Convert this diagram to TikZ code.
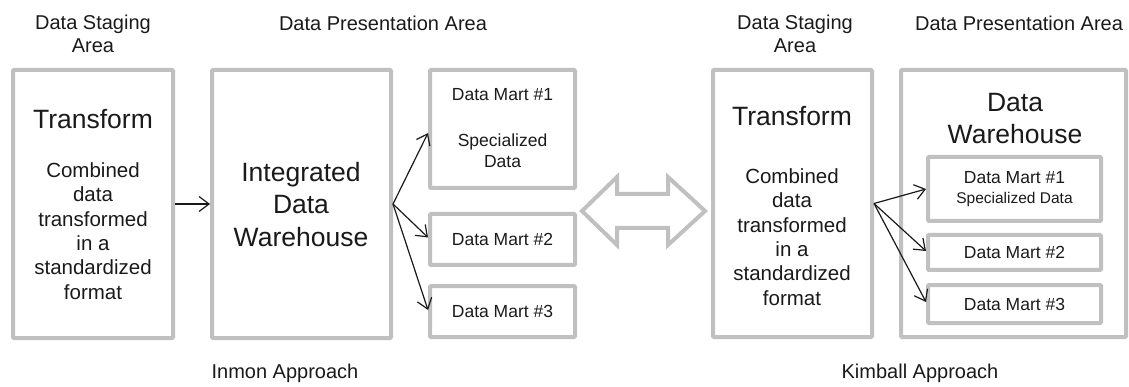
\documentclass[tikz,border=0pt]{standalone}
\usepackage{fontspec}
\setmainfont{Liberation Sans}
\usetikzlibrary{arrows.meta}
\definecolor{boxgray}{HTML}{C0C0C0}
\definecolor{txt}{HTML}{1A1A1A}
\begin{document}
\begin{tikzpicture}[x=1pt,y=-1pt,
  box/.style={draw=boxgray,line width=4pt,rounded corners=1pt,inner sep=0pt,minimum width=#1},
  lbl/.style={text=txt,align=center,inner sep=0pt},
  big/.style={lbl,font=\fontsize{26.5}{32.5}\selectfont},
  mid/.style={lbl,font=\fontsize{20.5}{24.3}\selectfont},
  hdr/.style={lbl,font=\fontsize{20}{22.5}\selectfont},
  sml/.style={lbl,font=\fontsize{17.5}{21}\selectfont},
  tiny/.style={lbl,font=\fontsize{15.5}{18}\selectfont},
  conn/.style={draw=txt,line width=1.2pt,-{Straight Barb[length=10pt,width=15pt,line width=1.2pt]}},
  dbl/.style={draw=boxgray,line width=4pt,line join=miter}
]
\useasboundingbox (0,0) rectangle (1129,387);

% headers
\node[hdr] (h1) at (93,34) {Data Staging\\Area};
\node[hdr] (h2) at (383,23) {Data Presentation Area};
\node[hdr] (h3) at (795,34) {Data Staging\\Area};
\node[hdr] (h4) at (1019,23) {Data Presentation Area};

% Inmon side
\node[box=160pt,minimum height=268pt] (tr1) at (93,204) {};
\node[big] (tr1t) at (93,119) {Transform};
\node[mid] (tr1c) at (93,231) {Combined\\data\\transformed\\in a\\standardized\\format};

\node[box=179pt,minimum height=268pt] (idw) at (301.5,204) {};
\node[big] (idwt) at (301,204.5) {Integrated\\Data\\Warehouse};

\node[box=145pt,minimum height=118pt] (dm1) at (502.5,129) {};
\node[sml] (dm1a) at (502.5,95) {Data Mart \#1};
\node[sml] (dm1b) at (502.5,150.5) {Specialized\\Data};
\node[box=145pt,minimum height=51pt,sml] (dm2) at (502.5,239.5) {Data Mart \#2};
\node[box=145pt,minimum height=51pt,sml] (dm3) at (502.5,311.5) {Data Mart \#3};

\draw[conn] (tr1.east) -- (idw.west);
\draw[conn] (idw.east) -- ([yshift=-4pt]dm1.west);
\draw[conn] (idw.east) -- ([yshift=2pt]dm2.west);
\draw[conn] (idw.east) -- ([yshift=1.5pt]dm3.west);

% double arrow
\draw[dbl] (582,211) -- (617,177) -- (617,194) -- (668,194) -- (668,177) -- (705,211)
  -- (668,245) -- (668,228) -- (617,228) -- (617,245) -- cycle;

% Kimball side
\node[box=159pt,minimum height=267pt] (tr2) at (792.5,203.5) {};
\node[big] (tr2t) at (792,116) {Transform};
\node[mid] (tr2c) at (792,237) {Combined\\data\\transformed\\in a\\standardized\\format};

\node[box=225pt,minimum height=267pt] (kdw) at (1013.5,203.5) {};
\node[big] (kdwt) at (1015,118.5) {Data\\Warehouse};

\node[box=173pt,minimum height=64pt] (kdm1) at (1014.5,189) {};
\node[sml] (kdm1a) at (1014.5,178) {Data Mart \#1};
\node[tiny] (kdm1b) at (1014.5,199) {Specialized Data};
\node[box=173pt,minimum height=35pt,sml] (kdm2) at (1014.5,252.5) {Data Mart \#2};
\node[box=173pt,minimum height=38pt,sml] (kdm3) at (1014.5,304) {Data Mart \#3};

\draw[conn] (tr2.east) -- (kdm1.west);
\draw[conn] (tr2.east) -- ([yshift=1.5pt]kdm2.west);
\draw[conn] (tr2.east) -- ([yshift=2pt]kdm3.west);

% footers
\node[hdr] (f1) at (285,373) {Inmon Approach};
\node[hdr] (f2) at (920,373) {Kimball Approach};
\end{tikzpicture}
\end{document}
